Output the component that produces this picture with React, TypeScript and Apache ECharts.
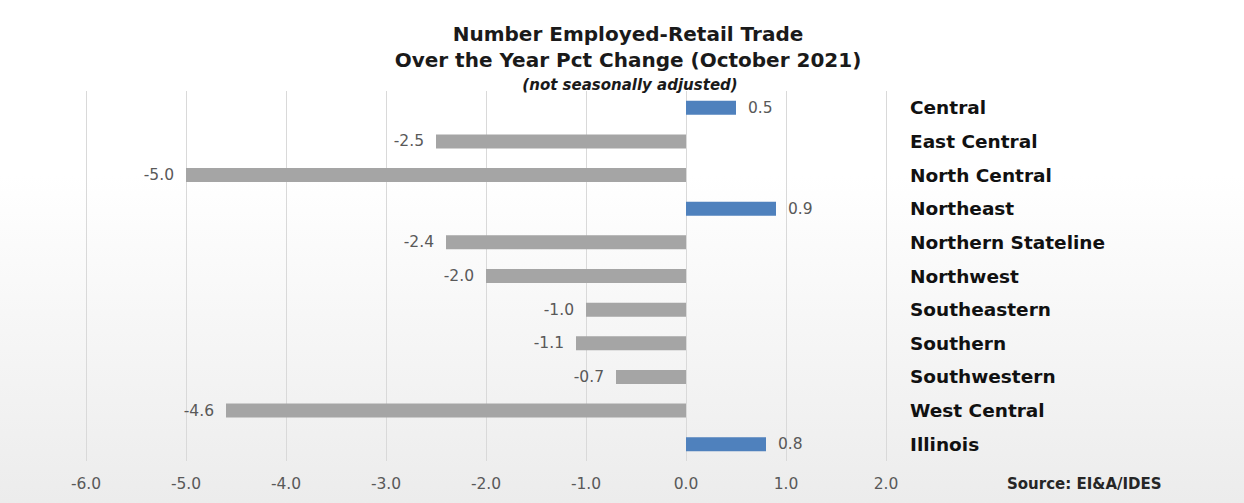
import React, { useEffect, useRef } from "react";
import * as echarts from "echarts";

const categories = [
  "Central",
  "East Central",
  "North Central",
  "Northeast",
  "Northern Stateline",
  "Northwest",
  "Southeastern",
  "Southern",
  "Southwestern",
  "West Central",
  "Illinois",
];
const values = [0.5, -2.5, -5.0, 0.9, -2.4, -2.0, -1.0, -1.1, -0.7, -4.6, 0.8];
const titleLines = ["Number Employed-Retail Trade", "Over the Year Pct Change (October 2021)"];
const subtitleText = "(not seasonally adjusted)";
const sourceText = "Source: EI&A/IDES";

const BLUE = "#4f81bd";
const GRAY = "#a5a5a5";

export default function App() {
  const ref = useRef<HTMLDivElement>(null);
  useEffect(() => {
    if (!ref.current) return;
    const chart = echarts.init(ref.current, null, { renderer: "svg" });
    const option = {
      animation: false,
      backgroundColor: {
        type: "linear",
        x: 0,
        y: 0,
        x2: 0,
        y2: 1,
        colorStops: [
          { offset: 0, color: "#ffffff" },
          { offset: 0.35, color: "#ffffff" },
          { offset: 1, color: "#ececec" },
        ],
      },
      title: [
        {
          text: titleLines.join("\n"),
          left: 623,
          top: 16,
          textAlign: "center",
          textStyle: {
            fontFamily: "DejaVu Sans",
            fontWeight: "bold",
            fontSize: 20,
            lineHeight: 26,
            color: "#1a1a1a",
          },
        },
        {
          text: subtitleText,
          left: 625,
          top: 72,
          textAlign: "center",
          textStyle: {
            fontFamily: "DejaVu Sans",
            fontWeight: "bold",
            fontStyle: "italic",
            fontSize: 15,
            color: "#1a1a1a",
          },
        },
        {
          text: sourceText,
          left: 1002,
          top: 471,
          textStyle: {
            fontFamily: "DejaVu Sans",
            fontWeight: "bold",
            fontSize: 15,
            color: "#262626",
          },
        },
      ],
      grid: { left: 86, right: 358, top: 91, bottom: 42, containLabel: false },
      xAxis: {
        type: "value",
        min: -6,
        max: 2,
        interval: 1,
        axisLine: { show: false },
        axisTick: { show: false },
        splitLine: { show: true, lineStyle: { color: "#d9d9d9", width: 1 } },
        axisLabel: {
          margin: 15,
          formatter: (v: number) => v.toFixed(1),
          fontFamily: "DejaVu Sans",
          fontSize: 15.5,
          color: "#595959",
        },
      },
      yAxis: {
        type: "category",
        data: categories,
        inverse: true,
        position: "right",
        axisLine: { show: false },
        axisTick: { show: false },
        splitLine: { show: false },
        axisLabel: {
          margin: 24,
          align: "left",
          fontFamily: "DejaVu Sans",
          fontWeight: "bold",
          fontSize: 18.5,
          color: "#111111",
        },
      },
      series: [
        {
          type: "bar",
          barWidth: 14,
          data: values.map((v) => ({
            value: v,
            itemStyle: { color: v >= 0 ? BLUE : GRAY },
            label: {
              show: true,
              position: v >= 0 ? "right" : "left",
              distance: 12,
              formatter: (p: any) => Number(p.value).toFixed(1),
              fontFamily: "DejaVu Sans",
              fontSize: 15.5,
              color: "#595959",
            },
          })),
        },
      ],
    };
    chart.setOption(option as any);
    return () => chart.dispose();
  }, []);
  return (
    <div
      ref={ref}
      style={{ position: "fixed", left: 0, top: 0, width: 1244, height: 503 }}
    />
  );
}
